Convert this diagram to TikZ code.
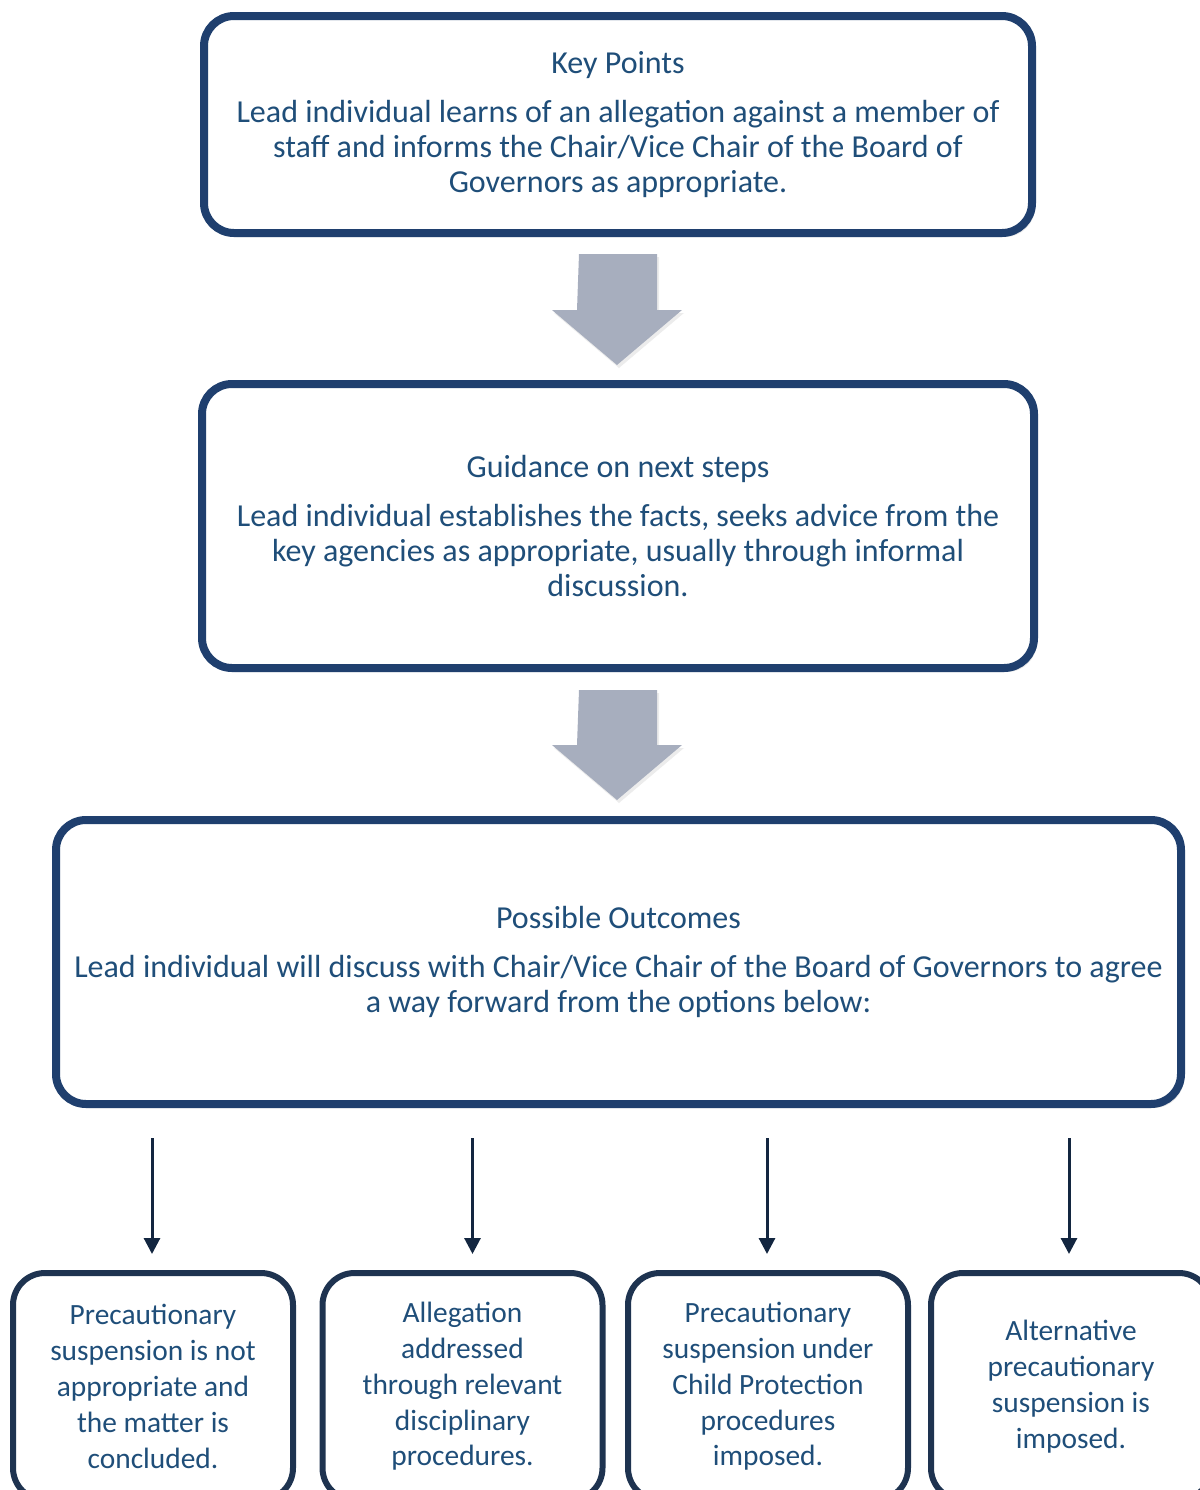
\documentclass[tikz,border=0pt]{standalone}
\usepackage{fontspec}
\setmainfont{Carlito}
\usetikzlibrary{positioning,calc,shadows,arrows.meta}
\definecolor{boxblue}{HTML}{1F3F6E}
\definecolor{textblue}{HTML}{1F4E79}
\definecolor{darkbox}{HTML}{1E3350}
\definecolor{navyline}{HTML}{132640}
\definecolor{greyarrow}{HTML}{A7AEBE}
\tikzset{
  stagebox/.style={draw=boxblue, line width=4pt, rounded corners=15pt, fill=white,
    text=textblue, align=center, font=\fontsize{16}{17.5}\selectfont,
    drop shadow={shadow xshift=1.5pt, shadow yshift=-2pt, opacity=0.2}},
  outcomebox/.style={draw=darkbox, line width=3pt, rounded corners=16pt, fill=white,
    text=textblue, align=center, font=\fontsize{14.7}{17.9}\selectfont,
    minimum width=140pt, minimum height=113.5pt},
  bigarrow/.style={fill=greyarrow,
    drop shadow={shadow xshift=1pt, shadow yshift=-1.5pt, opacity=0.15}},
  outarrow/.style={draw=navyline, line width=1.5pt, -{Triangle[length=8pt,width=8pt]}}
}
\begin{document}
\begin{tikzpicture}[x=0.5pt,y=-0.5pt]
    \useasboundingbox (0,0) rectangle (1200,1490);
    % Stages
    \node[stagebox, minimum width=414pt, minimum height=108.5pt] (keypts) at (618,124.5)
      {Key Points\\[7pt]
       Lead individual learns of an allegation against a member of\\
       staff and informs the Chair/Vice Chair of the Board of\\
       Governors as appropriate.};
    \node[stagebox, minimum width=416pt, minimum height=142pt] (guide) at (618,526)
      {Guidance on next steps\\[7pt]
       Lead individual establishes the facts, seeks advice from the\\
       key agencies as appropriate, usually through informal\\
       discussion.};
    \node[stagebox, minimum width=562.5pt, minimum height=142pt] (outcomes) at (618.5,962)
      {Possible Outcomes\\[7pt]
       Lead individual will discuss with Chair/Vice Chair of the Board of Governors to agree\\
       a way forward from the options below:};
    % Grey block arrows
    \fill[bigarrow] ($(keypts.south)+(-39,17)$) -- ++(78,0) -- ++(0,56) -- ++(25,0)
      -- ++(-65,55) -- ++(-65,-55) -- ++(25,0) -- cycle;
    \fill[bigarrow] ($(guide.south)+(-39,18)$) -- ++(78,0) -- ++(0,55) -- ++(25,0)
      -- ++(-65,55) -- ++(-65,-55) -- ++(25,0) -- cycle;
    % Outcomes
    \node[outcomebox] (optA) at (153,1386.5)
      {Precautionary\\suspension is not\\appropriate and\\the matter is\\concluded.};
    \node[outcomebox] (optB) at (462.5,1386.5)
      {Allegation\\addressed\\through relevant\\disciplinary\\procedures.};
    \node[outcomebox] (optC) at (768,1386.5)
      {Precautionary\\suspension under\\Child Protection\\procedures\\imposed.};
    \node[outcomebox] (optD) at (1071,1386.5)
      {Alternative\\precautionary\\suspension is\\imposed.};
    \foreach \opt/\dx in {optA/-1,optB/10,optC/-1,optD/-2}
      \draw[outarrow] ($(outcomes.south -| \opt.north)+(\dx,30)$) -- ($(\opt.north)+(\dx,-16)$);
\end{tikzpicture}
\end{document}
